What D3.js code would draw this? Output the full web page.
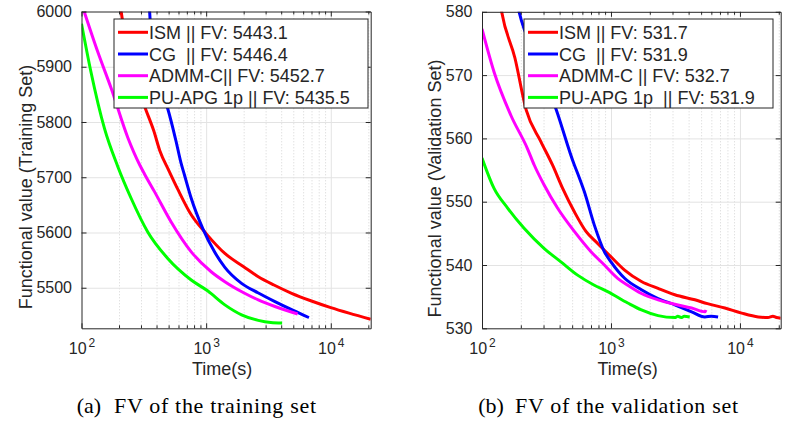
<!DOCTYPE html>
<html>
<head>
<meta charset="utf-8">
<script src="https://cdn.jsdelivr.net/npm/d3@7"></script>
<style>
  html, body { margin: 0; padding: 0; background: #fff; }
  svg { display: block; }
  text { font-family: "Liberation Sans", Arial, Helvetica, sans-serif; fill: #262626; }
  .cap { font-family: "Liberation Serif", "Times New Roman", serif; fill: #000; }
  .leg { white-space: pre; }
</style>
</head>
<body>
<svg id="chart" width="785" height="423"></svg>
<script>
// ---------------- DATA ----------------
const methods = ["ISM", "CG", "ADMM-C", "PU-APG 1p"];
const colors = ["#ff0000", "#0000ff", "#ff00ff", "#00ff00"];

const trainLegend = ["ISM || FV: 5443.1", "CG  || FV: 5446.4", "ADMM-C|| FV: 5452.7", "PU-APG 1p || FV: 5435.5"];
const validLegend = ["ISM || FV: 531.7", "CG  || FV: 531.9", "ADMM-C || FV: 532.7", "PU-APG 1p  || FV: 531.9"];

const trainYTicks = [5500, 5600, 5700, 5800, 5900, 6000];
const validYTicks = [530, 540, 550, 560, 570, 580];
const xMajorTicks = [100, 1000, 10000];

// [time (s), functional value]
const trainISM = [[200,6030],[208,6000],[230,5945],[260,5893],[290,5856],[326,5824],[380,5784],[425,5748],[500,5713],[593,5678],[759,5632],[1000,5598],[1413,5562],[2000,5538],[2620,5520],[3500,5505],[4850,5490],[7000,5476],[10000,5464],[14000,5454],[20900,5443]];
const trainCG = [[345,6030],[352,6000],[362,5955],[394,5894],[441,5855],[492,5824],[571,5767],[630,5725],[670,5704],[759,5662],[940,5607],[1167,5565],[1413,5537],[1923,5508],[2600,5491],[3565,5475],[5000,5459],[6680,5446]];
const trainADMM = [[105,6000],[135,5927],[173,5861],[235,5772],[292,5723],[320,5706],[385,5674],[524,5619],[759,5565],[1097,5529],[1413,5511],[2000,5491],[2620,5478],[3565,5466],[5420,5452.5]];
const trainPU = [[100,5978],[119,5891],[153,5788],[195,5720],[250,5662],[340,5601],[492,5553],[759,5514],[1033,5494],[1413,5469],[1923,5451],[2620,5441],[3300,5437],[4070,5436]];

const validISM = [[138,581.5],[142,580],[180,572.7],[220,564.5],[286,559.5],[352,555.8],[422,552.1],[520,548.4],[640,545.3],[788,543.4],[1000,541.3],[1276,539.2],[1722,537.4],[2318,536.3],[3126,535.3],[4468,534.5],[5600,533.9],[7640,533.2],[10310,532.4],[13870,531.8],[16500,531.7],[18000,531.9],[19200,531.7],[20700,531.6]];
const validCG = [[190,580.8],[194,580],[270,572.3],[377,564.5],[520,555.8],[551,554.5],[621,551.6],[743,546.3],[889,542.1],[1000,540.5],[1276,537.9],[1722,536.1],[2318,534.7],[3126,533.7],[4220,532.6],[5350,531.8],[6000,531.9],[6770,531.8]];
const validADMM = [[100,577.3],[124,570.5],[167,563.7],[225,558.4],[254,555.8],[304,552.6],[385,549.0],[520,545.3],[700,542.1],[889,540.0],[1127,537.9],[1349,536.8],[1722,535.5],[2318,534.5],[3126,533.8],[4220,533.2],[5350,532.6],[5450,532.9]];
const validPU = [[100,556.9],[124,552.1],[158,549.0],[212,545.8],[304,542.6],[409,540.5],[551,538.4],[743,536.8],[942,535.8],[1349,534.0],[1722,532.9],[2318,532.0],[3126,531.7],[3300,531.9],[3500,531.7],[3700,531.9],[4080,531.8]];

// ---------------- DRAW ----------------
const svg = d3.select("#chart");
const axisColor = "#262626";

function panel(cfg) {
  const g = svg.append("g");
  const x = d3.scaleLog().domain(cfg.xDomain).range([cfg.x0, cfg.x1]);
  const y = d3.scaleLinear().domain(cfg.yDomain).range([cfg.y1, cfg.y0]);
  const W = cfg.x1 - cfg.x0, H = cfg.y1 - cfg.y0;

  g.append("rect").attr("x", cfg.x0).attr("y", cfg.y0).attr("width", W).attr("height", H).attr("fill", "#fff");

  const minorTicks = x.ticks().filter(v => !xMajorTicks.includes(v));

  // minor x grid (dotted)
  const gmin = g.append("g").attr("transform", `translate(0,${cfg.y1})`)
    .call(d3.axisBottom(x).tickValues(minorTicks).tickSize(-H).tickFormat(""));
  gmin.select(".domain").remove();
  gmin.selectAll("line").attr("stroke", "#d4d4d4").attr("stroke-dasharray", "1,2");

  // major x grid
  const gmaj = g.append("g").attr("transform", `translate(0,${cfg.y1})`)
    .call(d3.axisBottom(x).tickValues(xMajorTicks.filter(v => v > cfg.xDomain[0])).tickSize(-H).tickFormat(""));
  gmaj.select(".domain").remove();
  gmaj.selectAll("line").attr("stroke", "#e3e3e3");

  // y grid
  const gy = g.append("g").attr("transform", `translate(${cfg.x0},0)`)
    .call(d3.axisLeft(y).tickValues(cfg.yTicks.filter(v => v > cfg.yDomain[0] && v < cfg.yDomain[1])).tickSize(-W).tickFormat(""));
  gy.select(".domain").remove();
  gy.selectAll("line").attr("stroke", "#e3e3e3");

  // lines
  const clipId = "clip" + cfg.id;
  svg.append("defs").append("clipPath").attr("id", clipId)
    .append("rect").attr("x", cfg.x0).attr("y", cfg.y0).attr("width", W).attr("height", H);
  const line = d3.line().x(d => x(d[0])).y(d => y(d[1])).curve(d3.curveMonotoneX);
  const lg = g.append("g").attr("clip-path", `url(#${clipId})`);
  cfg.series.forEach((s, i) => {
    lg.append("path").datum(s).attr("d", line).attr("fill", "none")
      .attr("stroke", colors[i]).attr("stroke-width", 3)
      .attr("stroke-linejoin", "round").attr("stroke-linecap", "butt");
  });

  // axes (ticks inside)
  const styleAxis = sel => {
    sel.select(".domain").attr("stroke", axisColor);
    sel.selectAll(".tick line").attr("stroke", axisColor);
  };
  const bx = g.append("g").attr("transform", `translate(0,${cfg.y1})`)
    .call(d3.axisBottom(x).tickValues(xMajorTicks).tickSizeInner(-5).tickSizeOuter(0).tickPadding(14));
  styleAxis(bx);
  bx.selectAll("text").each(function(d) {
    const t = d3.select(this);
    t.text("").attr("font-size", 16).attr("dy", null).attr("y", 26).attr("fill", axisColor);
    t.append("tspan").text("10");
    t.append("tspan").attr("dx", 2).attr("dy", -7).attr("font-size", 12).text(Math.round(Math.log10(d)));
  });
  const bxm = g.append("g").attr("transform", `translate(0,${cfg.y1})`)
    .call(d3.axisBottom(x).tickValues(minorTicks).tickSizeInner(-3).tickSizeOuter(0).tickFormat(""));
  bxm.select(".domain").remove(); styleAxis(bxm);

  const tx = g.append("g").attr("transform", `translate(0,${cfg.y0})`)
    .call(d3.axisTop(x).tickValues(xMajorTicks).tickSizeInner(-5).tickSizeOuter(0).tickFormat(""));
  styleAxis(tx);
  const txm = g.append("g").attr("transform", `translate(0,${cfg.y0})`)
    .call(d3.axisTop(x).tickValues(minorTicks).tickSizeInner(-3).tickSizeOuter(0).tickFormat(""));
  txm.select(".domain").remove(); styleAxis(txm);

  const ly = g.append("g").attr("transform", `translate(${cfg.x0},0)`)
    .call(d3.axisLeft(y).tickValues(cfg.yTicks).tickFormat(d3.format("d")).tickSizeInner(-5).tickSizeOuter(0).tickPadding(9.5));
  styleAxis(ly);
  ly.selectAll("text").attr("font-size", 16).attr("fill", axisColor);
  const ry = g.append("g").attr("transform", `translate(${cfg.x1},0)`)
    .call(d3.axisRight(y).tickValues(cfg.yTicks).tickSizeInner(-5).tickSizeOuter(0).tickFormat(""));
  styleAxis(ry);
  svg.selectAll(".tick text").attr("font-family", "Liberation Sans, Arial, sans-serif");

  // axis labels
  g.append("text").attr("x", (cfg.x0 + cfg.x1) / 2 + cfg.xLabelShift).attr("y", 375)
    .attr("text-anchor", "middle").attr("font-size", 18).text("Time(s)");
  g.append("text").attr("transform", `translate(${cfg.yLabelX},${cfg.yLabelY}) rotate(-90)`)
    .attr("text-anchor", "middle").attr("font-size", 18).text(cfg.yLabel);

  // legend
  const leg = g.append("g");
  leg.append("rect").attr("x", cfg.legX).attr("y", 19).attr("width", cfg.legW).attr("height", 89)
    .attr("fill", "#fff").attr("stroke", axisColor).attr("stroke-width", 1);
  cfg.legend.forEach((txt, i) => {
    const cy = 32.3 + i * 21.7;
    leg.append("line").attr("x1", cfg.legX + 4).attr("x2", cfg.legX + 34).attr("y1", cy).attr("y2", cy)
      .attr("stroke", colors[i]).attr("stroke-width", 3);
    leg.append("text").attr("class", "leg").attr("x", cfg.legX + 35).attr("y", cy + 6.5)
      .attr("font-size", 18).attr("fill", "#000").text(txt);
  });

  // caption
  g.append("text").attr("class", "cap").attr("x", cfg.capX).attr("y", 413).attr("font-size", 22).text(cfg.capA);
  g.append("text").attr("class", "cap").attr("x", cfg.capX2).attr("y", 413).attr("font-size", 22)
    .attr("textLength", cfg.capW).attr("lengthAdjust", "spacing").text(cfg.capB);
}

panel({
  id: "a", x0: 81.5, x1: 370.7, y0: 11.5, y1: 328.3,
  xDomain: [100, 20900], yDomain: [5426.6, 6000], yTicks: trainYTicks,
  series: [trainISM, trainCG, trainADMM, trainPU], legend: trainLegend,
  legX: 114, legW: 254, yLabel: "Functional value (Training Set)", yLabelX: 31.5, yLabelY: 187,
  xLabelShift: -4,
  capX: 76.7, capA: "(a)", capX2: 114, capB: "FV of the training set", capW: 202
});
panel({
  id: "b", x0: 482, x1: 780.7, y0: 11.8, y1: 328.3,
  xDomain: [100, 20700], yDomain: [530, 580], yTicks: validYTicks,
  series: [validISM, validCG, validADMM, validPU], legend: validLegend,
  legX: 524, legW: 249, yLabel: "Functional value (Validation Set)", yLabelX: 441, yLabelY: 188.5,
  xLabelShift: -3.8,
  capX: 478.3, capA: "(b)", capX2: 515, capB: "FV of the validation set", capW: 223
});
</script>
</body>
</html>
